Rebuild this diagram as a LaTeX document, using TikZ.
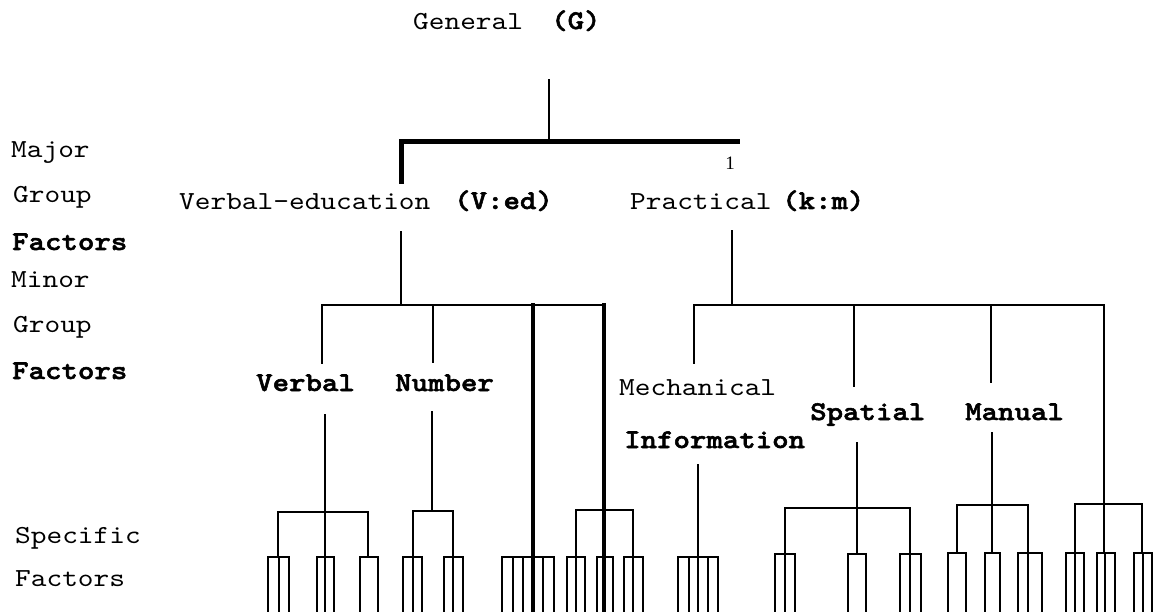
\documentclass[tikz,border=0pt]{standalone}
\usepackage{fontspec}
\newfontfamily\tw{lmmono10-regular.otf}[FakeStretch=1.15]
\newfontfamily\twb{lmmonolt10-bold.otf}[FakeStretch=1.16,FakeBold=2]
\newfontfamily\twserif{Liberation Serif}
\tikzset{
  lbl/.style={anchor=base west, inner sep=0pt, font=\tw\fontsize{26}{30}\selectfont},
  blbl/.style={anchor=base west, inner sep=0pt, font=\twb\fontsize{27}{32}\selectfont},
  ln/.style={line width=2.8pt, line cap=rect},
  heavy/.style={line width=5pt, line cap=rect},
  thickv/.style={line width=4.2pt, line cap=rect},
}
% fork: name, y of bar, left, right, legs
\newcommand\mkfork[5]{%
  \coordinate (#1-l) at (#3,#2);
  \coordinate (#1-r) at (#4,#2);
  \draw[ln] (#1-l) -- (#1-r);
  \foreach \xx [count=\ii] in {#5} {
    \coordinate (#1-t\ii) at (\xx,#2);
    \coordinate (#1-b\ii) at (\xx,611);
    \draw[ln] (#1-t\ii) -- (#1-b\ii);
  }%
}
\begin{document}
\begin{tikzpicture}[x=1pt,y=-1pt]
\useasboundingbox (0,0) rectangle (1154,612);
% ---------- texts ----------
\node[lbl]  (gen) at (413,30) {General};
\node[blbl] (G)   at (551,29) {(G)};
\node[font=\twserif\fontsize{19}{20}\selectfont, inner sep=0pt, anchor=base] (one) at (730,170) {1};

\node[lbl]  (maj)  at (11,158) {Major};
\node[lbl]  (grp1) at (13,203) {Group};
\node[blbl] (fac1) at (12,250) {Factors};
\node[lbl]  (min)  at (11,288) {Minor};
\node[lbl]  (grp2) at (13,333) {Group};
\node[blbl] (fac2) at (12,379) {Factors};
\node[lbl]  (spec) at (15,543) {Specific};
\node[lbl]  (fac3) at (15,586) {Factors};

\node[lbl]  (ved)  at (179,210) {Verbal-education};
\node[blbl] (Ved)  at (454,209) {(V:ed)};
\node[lbl]  (prac) at (630,210) {Practical};
\node[blbl] (km)   at (782,209) {(k:m)};

\node[blbl] (verb) at (256,391) {Verbal};
\node[blbl] (num)  at (395,391) {Number};
\node[lbl]  (mech) at (619,395) {Mechanical};
\node[blbl] (info) at (624,448) {Information};
\node[blbl] (spat) at (810,420) {Spatial};
\node[blbl] (man)  at (965,420) {Manual};

% ---------- general to major ----------
\coordinate (g-t) at (549,80);
\coordinate (g-b) at (549,142);
\coordinate (mb-l) at (401,142);
\coordinate (mb-r) at (737,142);
\coordinate (mb-d) at (401,182);
\draw[ln] (g-t) -- (g-b);
\draw[heavy] (mb-d) -- (mb-l) -- (mb-r);

% ---------- major to minor ----------
\coordinate (vd-t) at (401,232);
\coordinate (vd-b) at (401,305);
\coordinate (pd-t) at (732,231);
\coordinate (pd-b) at (732,305);
\draw[ln] (vd-t) -- (vd-b);
\draw[ln] (pd-t) -- (pd-b);
\coordinate (lb-l) at (322,305);
\coordinate (lb-r) at (605,305);
\coordinate (rb-l) at (694,305);
\coordinate (rb-r) at (1104,305);
\draw[ln] (lb-l) -- (lb-r);
\draw[ln] (rb-l) -- (rb-r);

% drops to minor labels
\coordinate (verb-a) at (322,363);
\coordinate (num-t) at (433,305);
\coordinate (num-a) at (433,362);
\coordinate (mech-a) at (694,363);
\coordinate (spat-t) at (854,305);
\coordinate (spat-a) at (854,386);
\coordinate (man-t) at (991,305);
\coordinate (man-a) at (991,382);
\draw[ln] (lb-l) -- (verb-a);
\draw[ln] (num-t) -- (num-a);
\draw[ln] (rb-l) -- (mech-a);
\draw[ln] (spat-t) -- (spat-a);
\draw[ln] (man-t) -- (man-a);

% two heavy verticals running to the bottom
\coordinate (h1-t) at (533,305);
\coordinate (h1-b) at (533,612);
\coordinate (h2-t) at (604,305);
\coordinate (h2-b) at (604,612);
\draw[thickv] (h1-t) -- (h1-b);
\draw[thickv] (h2-t) -- (h2-b);

% ---------- minor to specific ----------
% Verbal
\coordinate (vb-t) at (325,415);
\coordinate (vb-j) at (325,512);
\draw[ln] (vb-t) -- (vb-j);
\draw[ln] (278,557) -- (278,512) -- (368,512) -- (368,557);
\draw[ln] (vb-j) -- (325,557);
% Number
\coordinate (nb-t) at (432,412);
\coordinate (nb-j) at (432,511);
\draw[ln] (nb-t) -- (nb-j);
\draw[ln] (413,557) -- (413,511) -- (453,511) -- (453,557);
% second heavy line group
\draw[ln] (576,557) -- (576,510) -- (633,510) -- (633,557);
% Information
\coordinate (ib-t) at (698,465);
\coordinate (ib-b) at (698,557);
\draw[ln] (ib-t) -- (ib-b);
% Spatial
\coordinate (sb-t) at (857,443);
\coordinate (sb-j) at (857,508);
\draw[ln] (sb-t) -- (sb-j);
\draw[ln] (785,554) -- (785,508) -- (910,508) -- (910,554);
\draw[ln] (sb-j) -- (857,554);
% Manual
\coordinate (mb2-t) at (992,433);
\coordinate (mb2-j) at (992,505);
\draw[ln] (mb2-t) -- (mb2-j);
\draw[ln] (957,553) -- (957,505) -- (1028,505) -- (1028,553);
\draw[ln] (mb2-j) -- (992,553);
% right group
\coordinate (rg-j) at (1104,504);
\draw[ln] (rb-r) -- (rg-j);
\draw[ln] (1075,553) -- (1075,504) -- (1142,504) -- (1142,553);
\draw[ln] (rg-j) -- (1104,553);

% ---------- specific factor forks ----------
\mkfork{f1}{557}{268}{289}{268,279,289}
\mkfork{f2}{557}{317}{334}{317,325,334}
\mkfork{f3}{557}{360}{378}{360,378}
\mkfork{f4}{557}{403}{422}{403,413,422}
\mkfork{f5}{557}{444}{463}{444,453,463}
\mkfork{f6}{557}{502}{554}{502,513,523,543,554}
\mkfork{f7}{557}{567}{585}{567,576,585}
\mkfork{f8}{557}{597}{613}{597,613}
\mkfork{f9}{557}{624}{643}{624,633,643}
\mkfork{f10}{557}{678}{718}{678,689,698,708,718}
\mkfork{f11}{554}{775}{795}{775,785,795}
\mkfork{f12}{554}{848}{866}{848,866}
\mkfork{f13}{554}{900}{921}{900,910,921}
\mkfork{f14}{553}{948}{966}{948,966}
\mkfork{f15}{553}{985}{1000}{985,1000}
\mkfork{f16}{553}{1018}{1042}{1018,1028,1042}
\mkfork{f17}{553}{1066}{1084}{1066,1075,1084}
\mkfork{f18}{553}{1097}{1115}{1097,1105,1115}
\mkfork{f19}{553}{1134}{1152}{1134,1143,1152}
\end{tikzpicture}
\end{document}
